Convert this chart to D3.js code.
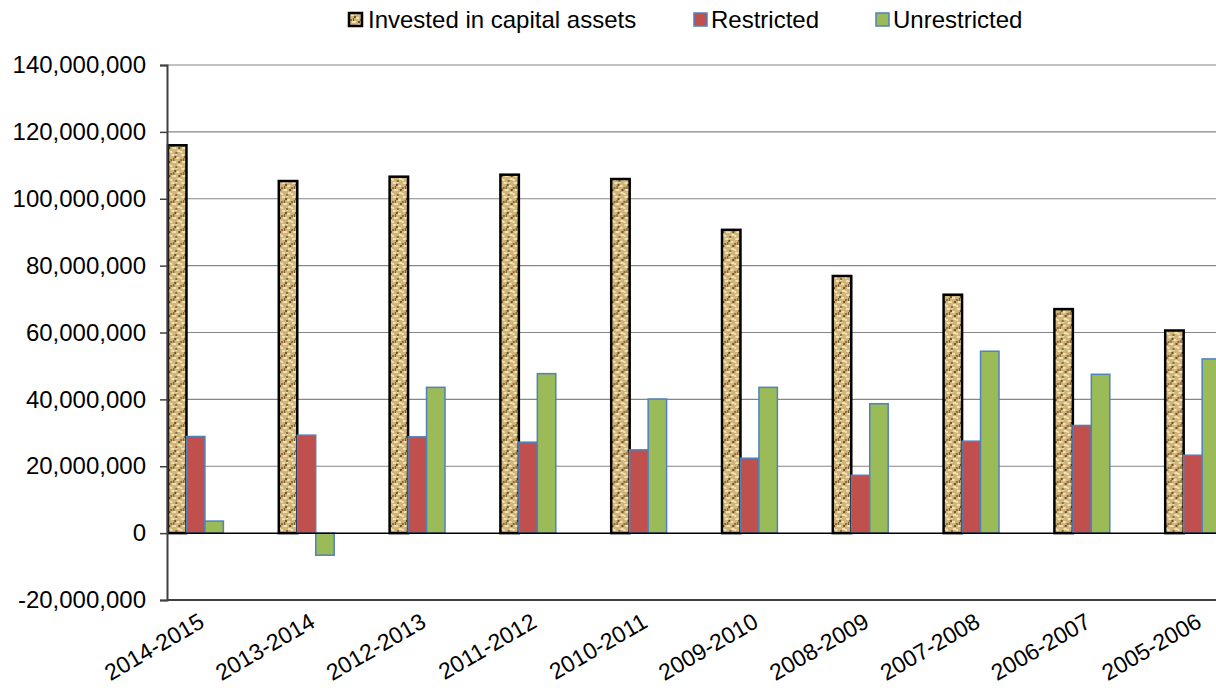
<!DOCTYPE html>
<html>
<head>
<meta charset="utf-8">
<script src="https://cdn.jsdelivr.net/npm/d3@7"></script>
<style>
  html, body { margin: 0; padding: 0; background: #fff; }
  svg { display: block; font-family: "Liberation Sans", Arial, sans-serif; }
</style>
</head>
<body>
<svg id="chart" width="1216" height="691"></svg>
<script>
// ---- data ----
const categories = ["2014-2015","2013-2014","2012-2013","2011-2012","2010-2011","2009-2010","2008-2009","2007-2008","2006-2007","2005-2006"];
const seriesNames = ["Invested in capital assets","Restricted","Unrestricted"];
const investedValues     = [116000000,105300000,106600000,107200000,105900000,90700000,76900000,71300000,67000000,60600000];
const restrictedValues   = [28900000,29300000,28800000,27200000,24900000,22400000,17300000,27500000,32200000,23300000];
const unrestrictedValues = [3600000,-6600000,43600000,47700000,40100000,43600000,38700000,54400000,47500000,52100000];
const yTicks = [-20000000,0,20000000,40000000,60000000,80000000,100000000,120000000,140000000];

const seriesValues = [investedValues, restrictedValues, unrestrictedValues];

const svg = d3.select("#chart");
const defs = svg.append("defs");

// burlap-like texture for the first series
const pat = defs.append("pattern").attr("id","burlap")
  .attr("patternUnits","userSpaceOnUse").attr("width",10).attr("height",14);
pat.append("rect").attr("width",10).attr("height",14).attr("fill","#d0b47a");
const lightSpots = [[1,0,3,2],[6,3,3,2],[2,7,4,2],[0,11,2,2],[7,10,3,2],[5,0,2,1]];
const darkSpots  = [[4,2,2,2],[0,5,2,2],[8,7,2,2],[5,12,2,2],[3,4,1,3]];
lightSpots.forEach(r => pat.append("rect").attr("x",r[0]).attr("y",r[1]).attr("width",r[2]).attr("height",r[3]).attr("fill","#f1e2b4"));
darkSpots.forEach((r,i) => pat.append("rect").attr("x",r[0]).attr("y",r[1]).attr("width",r[2]).attr("height",r[3]).attr("fill", i%2 ? "#8d6c38" : "#6e5026"));

const fills   = ["url(#burlap)", "#C0504D", "#9BBB59"];
const strokes = ["#000000", "#4F81BD", "#4F81BD"];
const strokeW = [2.5, 1.5, 1.5];

// ---- scales ----
const plotLeft = 167, plotTop = 65, plotBottom = 600;
const step = 110.8;
const x0 = d3.scaleBand().domain(categories).range([140.3, 140.3 + step*categories.length]).padding(0);
const x1 = d3.scaleBand().domain(seriesNames).range([x0.bandwidth()*0.25, x0.bandwidth()*0.75]).padding(0);
const y = d3.scaleLinear().domain([-20000000, 140000000]).range([plotBottom, plotTop]);

// ---- gridlines ----
const grid = svg.append("g");
grid.selectAll("line").data(yTicks.filter(t => t !== 0 && t !== -20000000)).join("line")
  .attr("x1", plotLeft).attr("x2", 1216)
  .attr("y1", d => y(d)).attr("y2", d => y(d))
  .attr("stroke", "#868686").attr("stroke-width", 1.2);

// bottom border line at -20M
svg.append("line").attr("x1", plotLeft).attr("x2", 1216)
  .attr("y1", y(-20000000)).attr("y2", y(-20000000))
  .attr("stroke", "#404040").attr("stroke-width", 2);

// ---- bars ----
const groups = svg.append("g").selectAll("g").data(categories).join("g")
  .attr("transform", c => `translate(${x0(c)},0)`);
groups.selectAll("rect")
  .data((c, i) => seriesNames.map((s, k) => ({ s, k, v: seriesValues[k][i] })))
  .join("rect")
  .attr("x", d => x1(d.s))
  .attr("width", x1.bandwidth())
  .attr("y", d => y(Math.max(0, d.v)))
  .attr("height", d => Math.abs(y(d.v) - y(0)))
  .attr("fill", d => fills[d.k])
  .attr("stroke", d => strokes[d.k])
  .attr("stroke-width", d => strokeW[d.k]);

// zero line
svg.append("line").attr("x1", plotLeft).attr("x2", 1216)
  .attr("y1", y(0)).attr("y2", y(0))
  .attr("stroke", "#000").attr("stroke-width", 1.5);

// ---- y axis ----
const fmt = d => d3.format(",")(d).replace("\u2212", "-");
const yAxis = svg.append("g").attr("transform", `translate(${plotLeft},0)`)
  .call(d3.axisLeft(y).tickValues(yTicks).tickFormat(fmt).tickSize(7).tickPadding(14));
yAxis.select(".domain").attr("stroke", "#404040").attr("stroke-width", 2);
yAxis.selectAll(".tick line").attr("stroke", "#404040").attr("stroke-width", 1.5);
yAxis.selectAll(".tick text").attr("font-size", 24).attr("fill", "#000")
  .attr("font-family", "'Liberation Sans', Arial, sans-serif");

// ---- x labels ----
svg.append("g").selectAll("text").data(categories).join("text")
  .attr("transform", c => `translate(${x0(c) + x0.bandwidth()/2 + 2},612) rotate(-30)`)
  .attr("text-anchor", "end")
  .attr("dy", "0.71em")
  .attr("font-size", 23)
  .attr("fill", "#000")
  .text(c => c);

// ---- legend ----
const legendPos = [{sx: 349, tx: 368}, {sx: 694, tx: 711}, {sx: 876, tx: 893}];
const legend = svg.append("g");
seriesNames.forEach((s, k) => {
  legend.append("rect").attr("x", legendPos[k].sx).attr("y", 13).attr("width", 13).attr("height", 13)
    .attr("fill", fills[k]).attr("stroke", strokes[k]).attr("stroke-width", k === 0 ? 2.5 : 1.5);
  legend.append("text").attr("x", legendPos[k].tx).attr("y", 28)
    .attr("font-size", 24).attr("fill", "#000").text(s);
});
</script>
</body>
</html>
